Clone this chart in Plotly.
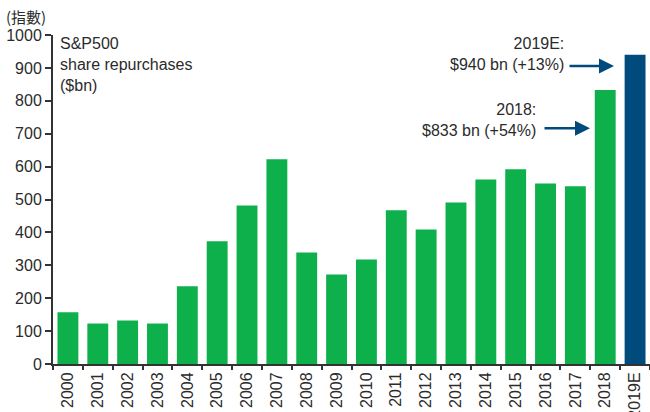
import plotly.graph_objects as go

years = ["2000", "2001", "2002", "2003", "2004", "2005", "2006", "2007", "2008", "2009",
         "2010", "2011", "2012", "2013", "2014", "2015", "2016", "2017", "2018", "2019E"]
buybacks = [157, 123, 132, 123, 236, 373, 482, 622, 339, 272,
            318, 467, 409, 491, 561, 592, 549, 540, 833, 940]
green = "#0db04b"
navy = "#004a7c"
colors = [navy if y.endswith("E") else green for y in years]

ytickvals = list(range(0, 1001, 100))

font_main = "Liberation Sans, Arial, sans-serif"
txt = "#2b2b2b"

fig = go.Figure()
fig.add_trace(go.Bar(x=years, y=buybacks, marker=dict(color=colors, line=dict(width=0)),
                     width=0.7, hoverinfo="skip"))

fig.update_layout(
    width=650, height=412,
    margin=dict(l=53, r=0, t=35, b=48),
    paper_bgcolor="white", plot_bgcolor="white",
    showlegend=False,
    font=dict(family=font_main, size=16, color=txt),
    xaxis=dict(type="category", tickangle=-90, tickson="boundaries",
               ticks="outside", ticklen=4, tickwidth=1.5, tickcolor="#333",
               showline=True, linecolor="#333", linewidth=2, showgrid=False,
               tickfont=dict(size=16, color=txt), range=[-0.5, 19.5],
               automargin=False),
    yaxis=dict(range=[0, 1000], tickvals=ytickvals, ticks="outside", ticklen=6,
               tickwidth=2, tickcolor="#333", showline=True, linecolor="#333",
               linewidth=2, showgrid=False, zeroline=False, automargin=False,
               tickfont=dict(size=16, color=txt)),
)

def px_x(p):
    return (p - 53) / 597

def px_y(p):
    return (363.5 - p) / 328.5

annotations = [
    dict(text="(指數)", xref="paper", yref="paper", x=px_x(4), y=px_y(17),
         xanchor="left", yanchor="middle", showarrow=False,
         font=dict(family="Noto Sans CJK TC, sans-serif", size=15, color=txt)),
    dict(text="S&P500<br>share repurchases<br>($bn)", xref="paper", yref="paper",
         x=px_x(58), y=px_y(33), xanchor="left", yanchor="top", align="left",
         showarrow=False, font=dict(size=16, color=txt)),
    dict(text="2019E:<br>$940 bn (+13%)", xref="paper", yref="paper",
         x=px_x(566), y=px_y(54), xanchor="right", yanchor="middle", align="right",
         showarrow=False, font=dict(size=16, color=txt)),
    dict(text="2018:<br>$833 bn (+54%)", xref="paper", yref="paper",
         x=px_x(538), y=px_y(119.5), xanchor="right", yanchor="middle", align="right",
         showarrow=False, font=dict(size=16, color=txt)),
    dict(text="", xref="paper", yref="paper", x=px_x(614), y=px_y(66),
         ax=-46, ay=0, showarrow=True, arrowhead=2, arrowsize=1.2, arrowwidth=2.5,
         arrowcolor=navy),
    dict(text="", xref="paper", yref="paper", x=px_x(590), y=px_y(128),
         ax=-47, ay=0, showarrow=True, arrowhead=2, arrowsize=1.2, arrowwidth=2.5,
         arrowcolor=navy),
]
fig.update_layout(annotations=annotations)

fig.write_html("out.html")
